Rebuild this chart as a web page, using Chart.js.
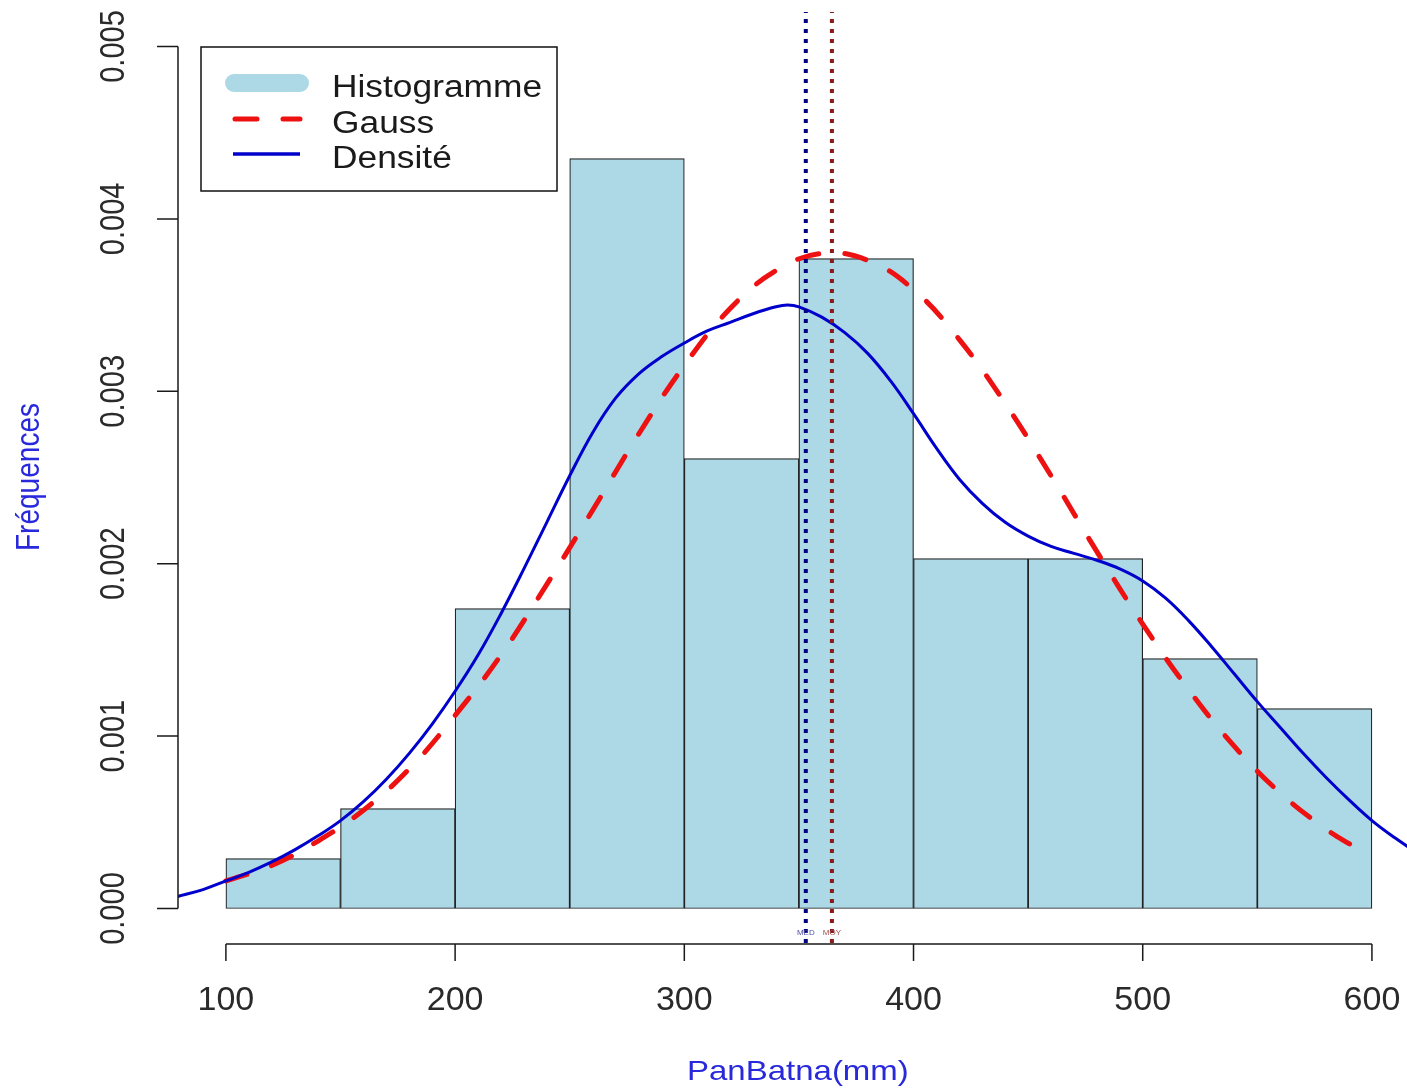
<!DOCTYPE html>
<html>
<head>
<meta charset="utf-8">
<script src="https://cdn.jsdelivr.net/npm/chart.js@4.4.1/dist/chart.umd.min.js"></script>
<style>
html,body{margin:0;padding:0;background:#fff;}
canvas{display:block;}
</style>
</head>
<body>
<canvas id="c" width="1407" height="1092"></canvas>
<script>
// ---- data ----
const binEdges = [100, 150, 200, 250, 300, 350, 400, 450, 500, 550, 600];
const binCenters = [125, 175, 225, 275, 325, 375, 425, 475, 525, 575];
const binDensity = [0.00029, 0.00058, 0.00174, 0.00435, 0.00261, 0.00377, 0.00203, 0.00203, 0.00145, 0.00116];

const gaussX = [100, 120, 140, 160, 180, 200, 220, 240, 260, 280, 300, 320, 340, 360, 380, 400, 420, 440, 460, 480, 500, 520, 540, 560, 580, 592];
const gaussY = [0.00016, 0.00025, 0.00039, 0.00057, 0.00081, 0.00112, 0.00147, 0.00188, 0.00231, 0.00275, 0.00315, 0.00348, 0.00370, 0.00380, 0.00376, 0.00359, 0.00330, 0.00293, 0.00251, 0.00207, 0.00165, 0.00127, 0.00094, 0.00067, 0.00046, 0.00036];

const densX = [79, 90, 100, 110, 120, 130, 140, 150, 160, 170, 180, 190, 200, 210, 220, 230, 240, 250, 260, 270, 280, 290, 300, 310, 320, 330, 340, 345, 350, 360, 370, 380, 390, 400, 410, 420, 430, 440, 450, 460, 470, 480, 490, 500, 510, 520, 530, 540, 550, 560, 570, 580, 590, 600, 610, 620];
const densY = [0.00007, 0.00011, 0.00016, 0.00021, 0.00027, 0.00034, 0.00042, 0.00051, 0.00062, 0.00075, 0.00090, 0.00107, 0.00126, 0.00147, 0.00171, 0.00197, 0.00224, 0.00251, 0.00276, 0.00296, 0.00310, 0.00320, 0.00328, 0.00335, 0.00340, 0.00345, 0.00349, 0.00350, 0.00349, 0.00343, 0.00334, 0.00322, 0.00306, 0.00287, 0.00267, 0.00249, 0.00235, 0.00224, 0.00216, 0.00210, 0.00206, 0.00202, 0.00197, 0.00190, 0.00180, 0.00167, 0.00152, 0.00136, 0.00120, 0.00105, 0.00090, 0.00076, 0.00063, 0.00051, 0.00041, 0.00032];

const medianValue = 353;
const meanValue = 364.4;

const xTicks = [100, 200, 300, 400, 500, 600];
const xTickLabels = ['100', '200', '300', '400', '500', '600'];
const yTicks = [0, 0.001, 0.002, 0.003, 0.004, 0.005];
const yTickLabels = ['0.000', '0.001', '0.002', '0.003', '0.004', '0.005'];

const legendLabels = ['Histogramme', 'Gauss', 'Densité'];
const xTitle = 'PanBatna(mm)';
const yTitle = 'Fréquences';

// ---- styles ----
const FONT = '"Liberation Sans", Arial, sans-serif';
const C_BAR = '#add8e6';
const C_RED = '#ee1111';
const C_BLUE = '#0000cc';
const C_MED = '#000080';
const C_MOY = '#8b1a1a';
const C_LAB = 'rgb(40,40,220)';
const C_TXT = '#1a1a1a';
const RED_DASH = [22, 26];

function drawText(ctx, s, x, y, o) {
  ctx.save();
  ctx.translate(x, y);
  if (o.rot) ctx.rotate(o.rot);
  ctx.scale(o.sx || 1, o.sy || 1);
  ctx.font = o.font;
  ctx.fillStyle = o.color || C_TXT;
  ctx.textAlign = o.align || 'center';
  ctx.textBaseline = o.baseline || 'alphabetic';
  ctx.fillText(s, 0, 0);
  ctx.restore();
}

const rAxesPlugin = {
  id: 'rAxes',
  afterDraw(chart) {
    const ctx = chart.ctx;
    const xs = chart.scales.x, ys = chart.scales.y;
    const area = chart.chartArea;
    ctx.save();
    ctx.strokeStyle = C_TXT;
    ctx.lineWidth = 1.5;
    ctx.lineCap = 'butt';
    // y axis
    const ax = area.left;
    ctx.beginPath();
    ctx.moveTo(ax, ys.getPixelForValue(yTicks[0]));
    ctx.lineTo(ax, ys.getPixelForValue(yTicks[yTicks.length - 1]));
    yTicks.forEach(v => {
      const p = ys.getPixelForValue(v);
      ctx.moveTo(ax, p); ctx.lineTo(ax - 21, p);
    });
    ctx.stroke();
    yTicks.forEach((v, i) => {
      drawText(ctx, yTickLabels[i], 114, ys.getPixelForValue(v),
        {rot: -Math.PI / 2, sx: 0.83, font: '35px ' + FONT, baseline: 'middle', color: '#2a2a2a'});
    });
    // x axis
    const ay = 944;
    ctx.beginPath();
    ctx.moveTo(xs.getPixelForValue(xTicks[0]), ay);
    ctx.lineTo(xs.getPixelForValue(xTicks[xTicks.length - 1]), ay);
    xTicks.forEach(v => {
      const p = xs.getPixelForValue(v);
      ctx.moveTo(p, ay); ctx.lineTo(p, ay + 17);
    });
    ctx.stroke();
    xTicks.forEach((v, i) => {
      drawText(ctx, xTickLabels[i], xs.getPixelForValue(v), 1010,
        {font: '34px ' + FONT, color: '#2a2a2a'});
    });
    // axis titles
    drawText(ctx, xTitle, (area.left + xs.getPixelForValue(620)) / 2, 1080,
      {font: '33px ' + FONT, color: C_LAB, sy: 0.85});
    drawText(ctx, yTitle, 30, 477,
      {rot: -Math.PI / 2, sx: 0.85, font: '33px ' + FONT, baseline: 'middle', color: C_LAB});
    // MED / MOY labels
    const yl = ys.getPixelForValue(-0.00014);
    drawText(ctx, 'MED', xs.getPixelForValue(medianValue), yl,
      {font: '8px ' + FONT, baseline: 'middle', color: '#5050a0'});
    drawText(ctx, 'MOY', xs.getPixelForValue(meanValue), yl,
      {font: '8px ' + FONT, baseline: 'middle', color: '#a05050'});

    // legend
    ctx.fillStyle = '#fff';
    ctx.fillRect(201, 47, 356, 144);
    ctx.strokeStyle = '#111';
    ctx.lineWidth = 1.5;
    ctx.strokeRect(201, 47, 356, 144);
    ctx.lineCap = 'round';
    ctx.strokeStyle = C_BAR; ctx.lineWidth = 18;
    ctx.beginPath(); ctx.moveTo(234, 83); ctx.lineTo(300, 83); ctx.stroke();
    ctx.strokeStyle = C_RED; ctx.lineWidth = 5; ctx.setLineDash(RED_DASH);
    ctx.beginPath(); ctx.moveTo(235, 119); ctx.lineTo(300, 119); ctx.stroke();
    ctx.setLineDash([]);
    ctx.strokeStyle = C_BLUE; ctx.lineWidth = 3.5; ctx.lineCap = 'butt';
    ctx.beginPath(); ctx.moveTo(233, 154); ctx.lineTo(300, 154); ctx.stroke();
    const base = [97, 132.5, 168];
    legendLabels.forEach((t, i) => {
      drawText(ctx, t, 332, base[i], {font: '31px ' + FONT, sx: 1.14, align: 'left', color: '#1a1a1a'});
    });
    ctx.restore();
  }
};

const bgPlugin = {
  id: 'bg',
  beforeDraw(chart) {
    const ctx = chart.ctx;
    ctx.save(); ctx.fillStyle = '#fff'; ctx.fillRect(0, 0, chart.width, chart.height); ctx.restore();
  }
};

const yTop = 0.0052, yBot = -0.0002;

new Chart(document.getElementById('c'), {
  type: 'bar',
  data: {
    datasets: [
      {
        type: 'line', label: 'MED',
        data: [{x: medianValue, y: yBot}, {x: medianValue, y: yTop}],
        borderColor: C_MED, borderWidth: 4, borderDash: [4, 6], pointRadius: 0, order: 0
      },
      {
        type: 'line', label: 'MOY',
        data: [{x: meanValue, y: yBot}, {x: meanValue, y: yTop}],
        borderColor: C_MOY, borderWidth: 4, borderDash: [4, 6], pointRadius: 0, order: 0
      },
      {
        type: 'line', label: legendLabels[2],
        data: densX.map((x, i) => ({x, y: densY[i]})),
        borderColor: C_BLUE, borderWidth: 3, pointRadius: 0, tension: 0.4, order: 1
      },
      {
        type: 'line', label: legendLabels[1],
        data: gaussX.map((x, i) => ({x, y: gaussY[i]})),
        borderColor: C_RED, borderWidth: 5, borderDash: RED_DASH, borderCapStyle: 'round',
        pointRadius: 0, tension: 0.4, order: 2
      },
      {
        type: 'bar', label: legendLabels[0],
        data: binCenters.map((x, i) => ({x, y: binDensity[i]})),
        backgroundColor: C_BAR, borderColor: '#222', borderWidth: 1.2, borderSkipped: false,
        barPercentage: 1, categoryPercentage: 1, order: 10
      }
    ]
  },
  options: {
    responsive: false,
    animation: false,
    devicePixelRatio: 1,
    layout: {padding: {left: 178, right: 0, top: 12, bottom: 149}},
    plugins: {legend: {display: false}, tooltip: {enabled: false}},
    scales: {
      x: {
        type: 'linear', min: 79.1, max: 615.3, display: false, offset: false,
        afterBuildTicks: (s) => { s.ticks = binEdges.map(v => ({value: v})); }
      },
      y: {type: 'linear', min: yBot, max: yTop, display: false}
    }
  },
  plugins: [bgPlugin, rAxesPlugin]
});
</script>
</body>
</html>
